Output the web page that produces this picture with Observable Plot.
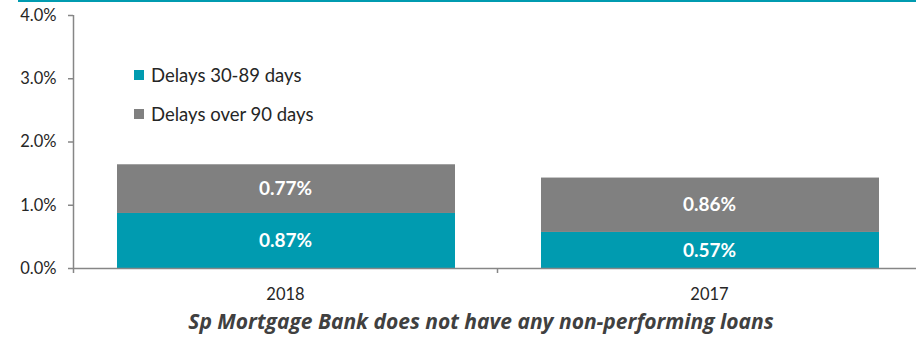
<!DOCTYPE html>
<html>
<head>
<meta charset="utf-8">
<script src="https://cdn.jsdelivr.net/npm/d3@7"></script>
<script src="https://cdn.jsdelivr.net/npm/@observablehq/plot@0.6"></script>
<style>
  html, body { margin: 0; padding: 0; background: #fff; }
  #wrap { position: relative; width: 916px; height: 337px; overflow: hidden; font-family: Lato, "Open Sans", sans-serif; }
  #topline { position: absolute; left: 18px; right: 0; top: 0; height: 2px; background: #009BB0; }
  #legend { position: absolute; left: 134px; top: 65px; font-size: 18.5px; color: #262626; }
  .li { display: flex; align-items: center; height: 20px; margin-bottom: 19px; }
  .sw { width: 10px; height: 10px; margin-right: 7px; }
  #caption { position: absolute; left: 0; width: 962px; top: 307px; text-align: center; font-family: "Open Sans", Lato, sans-serif; font-size: 21px; font-weight: bold; font-style: italic; color: #404040; white-space: nowrap; }
</style>
</head>
<body>
<div id="wrap">
  <div id="chart"></div>
  <div id="topline"></div>
  <div id="legend"></div>
  <div id="caption">Sp Mortgage Bank does not have any non-performing loans</div>
</div>
<script>
const years = ["2018", "2017"];
const seriesNames = ["Delays 30-89 days", "Delays over 90 days"];
const seriesColors = ["#009BB0", "#808080"];
const delays30to89 = [0.0087, 0.0057];
const delaysOver90 = [0.0077, 0.0086];
const yTicks = [0, 0.01, 0.02, 0.03, 0.04];

const seriesValues = [delays30to89, delaysOver90];
const rows = [];
years.forEach((yr, i) => {
  let base = 0;
  seriesValues.forEach((vals, s) => {
    rows.push({i, year: yr, series: seriesNames[s], value: vals[i], y1: base, y2: base + vals[i]});
    base += vals[i];
  });
});

const font = "Lato, 'Open Sans', sans-serif";
const plot = Plot.plot({
  width: 916,
  height: 305,
  marginLeft: 73,
  marginRight: -5,
  marginTop: 15,
  marginBottom: 37,
  style: {fontFamily: font, fontSize: "16.5px", color: "#262626", background: "transparent"},
  x: {domain: [0, years.length], axis: null, label: null},
  y: {domain: [0, 0.04], axis: null, label: null},
  color: {domain: seriesNames, range: seriesColors},
  marks: [
    Plot.rect(rows, {x1: "i", x2: d => d.i + 1, y1: "y1", y2: "y2", fill: "series", insetLeft: 44, insetRight: 42}),
    Plot.text(rows, {x: d => d.i + 0.5, y: d => (d.y1 + d.y2) / 2, text: d => d3.format(".2%")(d.value), fill: "white", fontWeight: "bold", fontSize: 19}),
    Plot.ruleX([0], {y1: 0, y2: 0.04, stroke: "#868686", strokeWidth: 1.5}),
    Plot.ruleY([0], {stroke: "#868686", strokeWidth: 1.5}),
    Plot.axisY({ticks: yTicks, tickFormat: ".1%", tickSize: 5, tickPadding: 12, stroke: "#868686", strokeWidth: 1.5, fill: "#262626", fontSize: 16.5, label: null}),
    Plot.axisX({ticks: d3.range(years.length + 1), tickFormat: () => "", tickSize: 5, stroke: "#868686", strokeWidth: 1.5, label: null}),
    Plot.axisX({ticks: years.map((_, i) => i + 0.5), tickFormat: v => years[Math.floor(v)], tickSize: 0, tickPadding: 20, fill: "#262626", fontSize: 16.5, label: null})
  ]
});
document.getElementById("chart").appendChild(plot);

const legend = document.getElementById("legend");
seriesNames.forEach((name, s) => {
  const item = document.createElement("div");
  item.className = "li";
  const sw = document.createElement("div");
  sw.className = "sw";
  sw.style.background = seriesColors[s];
  const label = document.createElement("span");
  label.textContent = name;
  item.appendChild(sw);
  item.appendChild(label);
  legend.appendChild(item);
});
</script>
</body>
</html>
